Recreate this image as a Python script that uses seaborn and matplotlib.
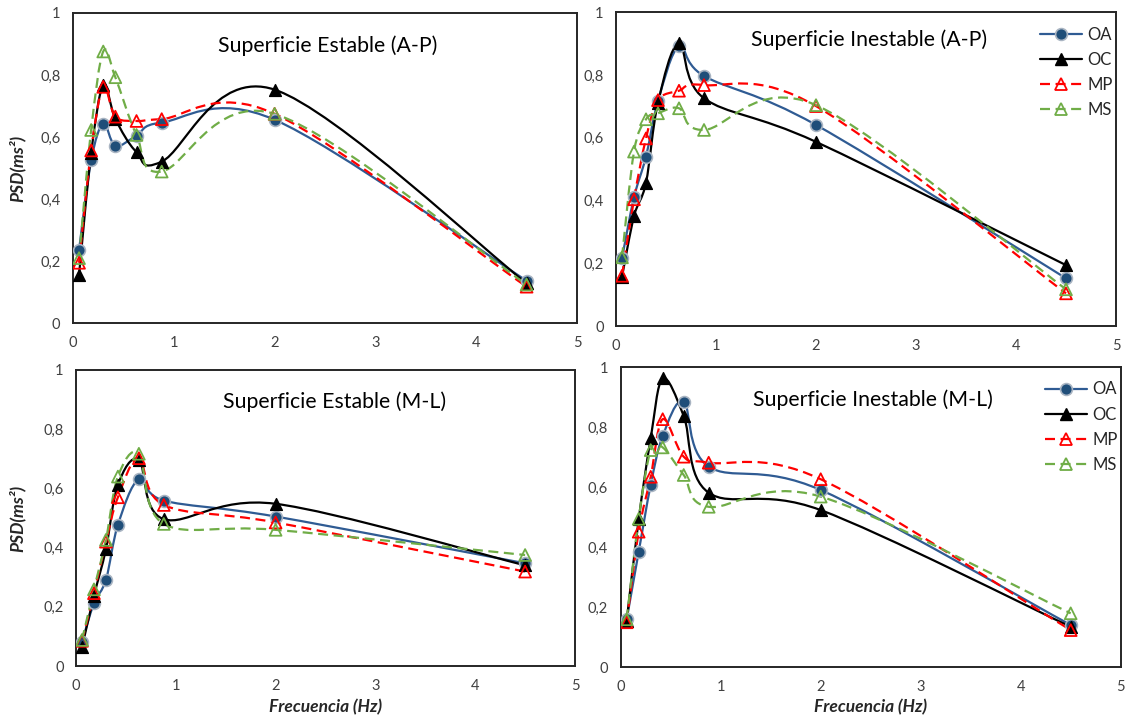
import numpy as np
import pandas as pd
import matplotlib
matplotlib.use("Agg")
import matplotlib.pyplot as plt
import seaborn as sns
from matplotlib.path import Path
from matplotlib.patches import PathPatch
from matplotlib.lines import Line2D

# ---------------- data ----------------
freq = [0.06, 0.18, 0.30, 0.42, 0.63, 0.88, 2.0, 4.5]
series_names = ["OA", "OC", "MP", "MS"]
panel_titles = ["Superficie Estable (A-P)", "Superficie Inestable (A-P)",
                "Superficie Estable (M-L)", "Superficie Inestable (M-L)"]

est_ap_OA = [0.236, 0.525, 0.643, 0.572, 0.604, 0.647, 0.656, 0.137]
est_ap_OC = [0.156, 0.548, 0.769, 0.659, 0.552, 0.521, 0.753, 0.129]
est_ap_MP = [0.195, 0.557, 0.762, 0.666, 0.652, 0.658, 0.675, 0.118]
est_ap_MS = [0.210, 0.623, 0.876, 0.793, 0.607, 0.489, 0.675, 0.125]

ine_ap_OA = [0.216, 0.410, 0.540, 0.717, 0.892, 0.797, 0.641, 0.152]
ine_ap_OC = [0.157, 0.350, 0.457, 0.712, 0.901, 0.726, 0.587, 0.194]
ine_ap_MP = [0.160, 0.404, 0.598, 0.720, 0.750, 0.768, 0.701, 0.104]
ine_ap_MS = [0.219, 0.556, 0.659, 0.678, 0.694, 0.625, 0.704, 0.117]

est_ml_OA = [0.082, 0.212, 0.291, 0.477, 0.631, 0.559, 0.505, 0.347]
est_ml_OC = [0.063, 0.237, 0.395, 0.612, 0.696, 0.496, 0.548, 0.340]
est_ml_MP = [0.085, 0.246, 0.420, 0.570, 0.702, 0.544, 0.485, 0.319]
est_ml_MS = [0.088, 0.259, 0.426, 0.640, 0.717, 0.480, 0.460, 0.375]

ine_ml_OA = [0.160, 0.385, 0.608, 0.771, 0.885, 0.669, 0.591, 0.141]
ine_ml_OC = [0.155, 0.493, 0.763, 0.963, 0.838, 0.582, 0.524, 0.135]
ine_ml_MP = [0.150, 0.452, 0.635, 0.827, 0.702, 0.682, 0.627, 0.124]
ine_ml_MS = [0.160, 0.495, 0.724, 0.733, 0.641, 0.535, 0.569, 0.180]

y_ticks = [0, 0.2, 0.4, 0.6, 0.8, 1.0]
y_ticklabels = ["0", "0,2", "0,4", "0,6", "0,8", "1"]
x_ticks = [0, 1, 2, 3, 4, 5]
x_ticklabels = ["0", "1", "2", "3", "4", "5"]

panels = [
    [est_ap_OA, est_ap_OC, est_ap_MP, est_ap_MS],
    [ine_ap_OA, ine_ap_OC, ine_ap_MP, ine_ap_MS],
    [est_ml_OA, est_ml_OC, est_ml_MP, est_ml_MS],
    [ine_ml_OA, ine_ml_OC, ine_ml_MP, ine_ml_MS],
]

# ---------------- style ----------------
sns.set_theme(style="white")
plt.rcParams["font.family"] = ["Lato", "DejaVu Sans"]

styles = {
    "OA": dict(color="#2F5B93", ls="-", marker="o", mfc="#1F4E79", mec="#A9B4C2", ms=8.5, mew=1.2),
    "OC": dict(color="#000000", ls="-", marker="^", mfc="#000000", mec="#000000", ms=8.5, mew=1.0),
    "MP": dict(color="#FF0000", ls=(0, (4.5, 2.5)), marker="^", mfc="none", mec="#FF0000", ms=8.5, mew=1.3),
    "MS": dict(color="#70AD47", ls=(0, (4.5, 2.5)), marker="^", mfc="none", mec="#70AD47", ms=8.5, mew=1.3),
}

W, H = 1127, 717
fig = plt.figure(figsize=(W / 100, H / 100), dpi=100)

# axes boxes in pixels: left, right, top, bottom
boxes = [(73, 577, 13, 323.3), (616, 1116, 12.3, 326),
         (76, 575, 370, 666), (620.7, 1120.7, 367.3, 667.3)]
# title left edge / baseline in axes fraction
title_pos = [(0.288, 0.875), (0.270, 0.892), (0.295, 0.871), (0.265, 0.871)]


def smooth_path(x, y):
    """Excel-like smoothed line (Catmull-Rom -> cubic Bezier)."""
    pts = np.column_stack([x, y]).astype(float)
    n = len(pts)
    verts = [pts[0]]
    codes = [Path.MOVETO]
    for i in range(n - 1):
        p0 = pts[i - 1] if i > 0 else pts[i]
        p1 = pts[i]
        p2 = pts[i + 1]
        p3 = pts[i + 2] if i + 2 < n else pts[i + 1]
        c1 = p1 + (p2 - p0) / 6.0
        c2 = p2 - (p3 - p1) / 6.0
        verts += [c1, c2, p2]
        codes += [Path.CURVE4] * 3
    return Path(verts, codes)


for k, (box, vals) in enumerate(zip(boxes, panels)):
    l, r, t, b = box
    ax = fig.add_axes([l / W, 1 - b / H, (r - l) / W, (b - t) / H])
    rows = []
    for name, v in zip(series_names, vals):
        for f, val in zip(freq, v):
            rows.append(dict(freq=f, psd=val, serie=name))
    df = pd.DataFrame(rows)

    for name in series_names:
        st = styles[name]
        d = df[df.serie == name]
        patch = PathPatch(smooth_path(d.freq.values, d.psd.values), facecolor="none",
                          edgecolor=st["color"], lw=1.6, linestyle=st["ls"], zorder=2)
        ax.add_patch(patch)
        sns.scatterplot(data=d, x="freq", y="psd", ax=ax, marker=st["marker"],
                        s=st["ms"] ** 2, facecolor=st["mfc"], edgecolor=st["mec"],
                        linewidth=st["mew"], zorder=3, legend=False)

    ax.set_xlim(0, 5)
    ax.set_ylim(0, 1)
    ax.set_xticks(x_ticks)
    ax.set_xticklabels(x_ticklabels)
    ax.set_yticks(y_ticks)
    ax.set_yticklabels(y_ticklabels)
    ax.tick_params(axis="both", direction="in", length=4, width=1.0, color="#404040",
                   labelsize=10.5, labelcolor="#404040", pad=9)
    for sp in ax.spines.values():
        sp.set_visible(True)
        sp.set_color("#262626")
        sp.set_linewidth(1.4)
    ax.set_xlabel("")
    ax.set_ylabel("")
    hpx = b - t
    wpx = r - l
    if k in (0, 2):
        ax.set_ylabel("PSD(ms²)", fontsize=12.5, fontweight="bold", fontstyle="italic",
                      color="#262626")
        ax.yaxis.label.set_va("center")
        ax.yaxis.set_label_coords(-(l - 17) / wpx, 0.5)
    if k in (2, 3):
        ax.set_xlabel("Frecuencia (Hz)", fontsize=12.5, fontweight="bold", fontstyle="italic",
                      color="#262626")
        ax.xaxis.label.set_va("baseline")
        ax.xaxis.set_label_coords(0.5, -(712 - b) / hpx)
    ax.text(title_pos[k][0], title_pos[k][1], panel_titles[k], transform=ax.transAxes,
            ha="left", va="baseline", fontsize=15.3, color="#000000")

    if k in (1, 3):
        handles = []
        for name in series_names:
            st = styles[name]
            handles.append(Line2D([0], [0], color=st["color"], lw=1.6, linestyle=st["ls"],
                                  marker=st["marker"], markerfacecolor=st["mfc"],
                                  markeredgecolor=st["mec"], markersize=st["ms"],
                                  markeredgewidth=st["mew"]))
        ax.legend(handles, series_names, loc="upper left", bbox_to_anchor=(0.835, 0.975),
                  frameon=False, fontsize=12, handlelength=2.5, handletextpad=0.35,
                  labelspacing=0.55, borderaxespad=0, numpoints=1)

fig.savefig("out.png", dpi=100)
